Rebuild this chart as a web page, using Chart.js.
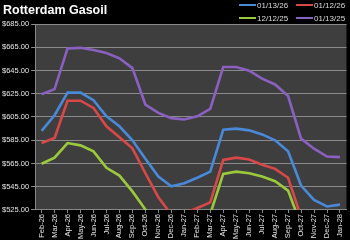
<!DOCTYPE html>
<html>
<head>
<meta charset="utf-8">
<script src="https://cdn.jsdelivr.net/npm/chart.js@4"></script>
<style>
  html, body { margin: 0; padding: 0; background: #000; }
  #wrap { position: relative; width: 350px; height: 240px; }
  #title { position: absolute; left: 3px; top: 3px; color: #fff; font: bold 12.5px "Liberation Sans", Arial, sans-serif; }
  .leg { position: absolute; color: #ddd; font: 8px "Liberation Sans", Arial, sans-serif; line-height: 9px; }
  .leg i { display: inline-block; width: 17px; height: 2px; vertical-align: middle; margin-right: 1px; position: relative; top: -1px; }
</style>
</head>
<body>
<div id="wrap">
  <canvas id="chart" width="350" height="240"></canvas>
  <div id="title">Rotterdam Gasoil</div>
  <div id="legend"></div>
</div>
<script>
const months = ['Feb-26', 'Mar-26', 'Apr-26', 'May-26', 'Jun-26', 'Jul-26', 'Aug-26', 'Sep-26', 'Oct-26', 'Nov-26', 'Dec-26', 'Jan-27',
  'Feb-27', 'Mar-27', 'Apr-27', 'May-27', 'Jun-27', 'Jul-27', 'Aug-27', 'Sep-27', 'Oct-27', 'Nov-27', 'Dec-27', 'Jan-28'];

const seriesNames = ['01/13/26', '01/12/26', '12/12/25', '01/13/25'];
const seriesColors = ['#4a88d8', '#d84848', '#9cc93c', '#8a60c0'];

const curve130126 = [593, 606.5, 626, 626, 619.5, 605.6, 597, 585, 569, 553.8, 545.4, 548,
  552.7, 558, 594, 595, 593.5, 590, 585, 575.6, 546, 533.6, 528, 529.6];
const curve120126 = [582.6, 587, 619, 619, 612.8, 597, 587.5, 578, 556.6, 536, 521, 522,
  526.7, 531.6, 568, 570, 568.5, 564, 560.4, 552.7, 519, 512, 508, 508];
const curve121225 = [564.8, 570, 582.6, 580.6, 575.4, 561.3, 554.6, 541, 525.5, 510, 505, 505,
  510, 521.5, 556, 558, 556.6, 553.8, 549.7, 541.7, 512, 505, 502, 502];
const curve130125 = [624.6, 629, 664, 664.5, 662.7, 660, 655.5, 647, 615.7, 608.5, 604, 602.8,
  605.6, 612, 648, 648, 644.8, 638, 633, 623, 586.4, 577.7, 571, 570.5];

const curves = [curve130126, curve120126, curve121225, curve130125];

// legend, two per row like the original
const legendPos = [[239, 1], [296, 1], [239, 14], [296, 14]];
const legendEl = document.getElementById('legend');
seriesNames.forEach((name, i) => {
  const d = document.createElement('div');
  d.className = 'leg';
  d.style.left = legendPos[i][0] + 'px';
  d.style.top = legendPos[i][1] + 'px';
  d.innerHTML = '<i style="background:' + seriesColors[i] + '"></i>' + name;
  legendEl.appendChild(d);
});

const plotBg = {
  id: 'plotBg',
  beforeDraw(chart) {
    const { ctx, chartArea: a } = chart;
    ctx.save();
    ctx.fillStyle = '#000';
    ctx.fillRect(0, 0, chart.width, chart.height);
    ctx.fillStyle = '#3e3e3e';
    ctx.fillRect(a.left, a.top, a.right - a.left, a.bottom - a.top);
    ctx.restore();
  }
};

const tickFont = { family: '"Liberation Sans", Arial, sans-serif', size: 7.5 };

new Chart(document.getElementById('chart'), {
  type: 'line',
  data: {
    labels: months,
    datasets: curves.map((vals, i) => ({
      label: seriesNames[i],
      data: vals,
      borderColor: seriesColors[i],
      backgroundColor: seriesColors[i],
      borderWidth: 2.6,
      pointRadius: 0,
      tension: 0,
    })),
  },
  options: {
    responsive: false,
    animation: false,
    layout: { padding: { top: 24, left: 0, right: 1, bottom: 0 } },
    plugins: { legend: { display: false }, title: { display: false }, tooltip: { enabled: false } },
    scales: {
      x: {
        offset: true,
        grid: { drawOnChartArea: false, drawTicks: true, tickLength: 3, color: '#888' },
        border: { color: '#888' },
        ticks: { color: '#e6e6e6', font: tickFont, maxRotation: 90, minRotation: 90, autoSkip: false, padding: 1 },
      },
      y: {
        min: 525,
        max: 685,
        grid: { color: '#8a8a8a', tickLength: 4 },
        border: { color: '#888' },
        ticks: {
          stepSize: 20,
          color: '#e6e6e6',
          font: tickFont,
          padding: 2,
          callback: v => '$' + v.toFixed(2),
        },
      },
    },
  },
  plugins: [plotBg],
});
</script>
</body>
</html>
